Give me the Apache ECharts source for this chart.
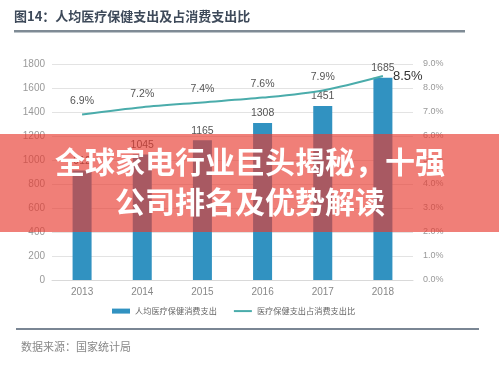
<!DOCTYPE html>
<html>
<head>
<meta charset="utf-8">
<script src="https://cdn.jsdelivr.net/npm/echarts@6/dist/echarts.min.js"></script>
<style>
html,body{margin:0;padding:0;background:#fff;}
#c{width:499px;height:367px;}
</style>
</head>
<body>
<div id="c"></div>
<script>
var categories = ['2013','2014','2015','2016','2017','2018'];
var spending = [912, 1045, 1165, 1308, 1451, 1685];
var ratio = [6.9, 7.2, 7.4, 7.6, 7.9, 8.5];
var barName = '人均医疗保健消费支出';
var lineName = '医疗保健支出占消费支出比';
var titleText = '图14：人均医疗保健支出及占消费支出比';
var sourceText = '数据来源：国家统计局';
var bannerLines = ['全球家电行业巨头揭秘，十强', '公司排名及优势解读'];

var FONT = '"Noto Sans CJK SC","Liberation Sans",sans-serif';
var chart = echarts.init(document.getElementById('c'), null, {renderer:'canvas'});

var lineData = ratio.map(function(v, i){
  if (i === ratio.length - 1) {
    return {value: v, label: {position: 'right', distance: 10, fontSize: 13, color: '#333'}};
  }
  return v;
});

chart.setOption({
  animation: false,
  textStyle: {fontFamily: FONT},
  grid: {left: 52, right: 86, top: 64, bottom: 87},
  legend: {
    left: 107, top: 302,
    itemWidth: 18, itemHeight: 5, itemGap: 16,
    textStyle: {fontSize: 8.2, color: '#666', fontFamily: FONT},
    data: [{name: barName, icon: 'rect'}, {name: lineName, itemStyle: {opacity: 0}}]
  },
  xAxis: {
    type: 'category', data: categories,
    axisLine: {lineStyle: {color: '#d9d9d9'}},
    axisTick: {show: false},
    axisLabel: {color: '#888', fontSize: 10, margin: 7, fontFamily: 'Liberation Sans'}
  },
  yAxis: [{
    type: 'value', min: 0, max: 1800, interval: 200,
    axisLine: {show: false}, axisTick: {show: false},
    axisLabel: {color: '#999', fontSize: 10, margin: 7, fontFamily: 'Liberation Sans',
      formatter: function(v){ return String(v); }},
    splitLine: {lineStyle: {color: '#e3e3e3'}}
  }, {
    type: 'value', min: 0, max: 9, interval: 1,
    axisLine: {show: false}, axisTick: {show: false},
    axisLabel: {color: '#999', fontSize: 9, margin: 10, fontFamily: 'Liberation Sans',
      formatter: function(v){ return v.toFixed(1) + '%'; }},
    splitLine: {show: false}
  }],
  series: [{
    name: barName, type: 'bar', data: spending, barWidth: 19,
    itemStyle: {color: '#3192c1'},
    label: {show: true, position: 'top', distance: 4, color: '#555', fontSize: 10.5, fontFamily: 'Liberation Sans'}
  }, {
    name: lineName, type: 'line', yAxisIndex: 1, data: lineData,
    smooth: 0.3, symbol: 'circle', symbolSize: 0.01, showSymbol: true,
    lineStyle: {color: '#4aacab', width: 2},
    itemStyle: {color: '#4aacab'},
    label: {show: true, position: 'top', distance: 8, color: '#555', fontSize: 10.5, fontFamily: 'Liberation Sans',
      formatter: function(p){ return p.value.toFixed(1) + '%'; }}
  }],
  graphic: [
    {type: 'text', left: 14, top: 10, z: 10,
      style: {text: titleText, font: 'bold 13px ' + FONT, fill: '#3e4a5a'}},
    {type: 'rect', shape: {x: 14, y: 30, width: 451, height: 2.5}, z: 10,
      style: {fill: '#7f8b95'}},
    {type: 'rect', shape: {x: 16, y: 328, width: 463, height: 2}, z: 10,
      style: {fill: '#7a8694'}},
    {type: 'text', left: 21, top: 341, z: 10,
      style: {text: sourceText, font: '11px ' + FONT, fill: '#888'}},
    {type: 'rect', shape: {x: 0, y: 134, width: 499, height: 98}, z: 100,
      style: {fill: 'rgba(232,58,48,0.65)'}},
    {type: 'text', x: 250, y: 162, z: 101,
      style: {text: bannerLines[0], font: 'bold 30px ' + FONT, fill: '#fff',
        align: 'center', verticalAlign: 'middle',
        shadowBlur: 3, shadowColor: 'rgba(0,0,0,0.25)', shadowOffsetX: 1, shadowOffsetY: 1}},
    {type: 'text', x: 250, y: 202, z: 101,
      style: {text: bannerLines[1], font: 'bold 30px ' + FONT, fill: '#fff',
        align: 'center', verticalAlign: 'middle',
        shadowBlur: 3, shadowColor: 'rgba(0,0,0,0.25)', shadowOffsetX: 1, shadowOffsetY: 1}}
  ]
});
</script>
</body>
</html>
